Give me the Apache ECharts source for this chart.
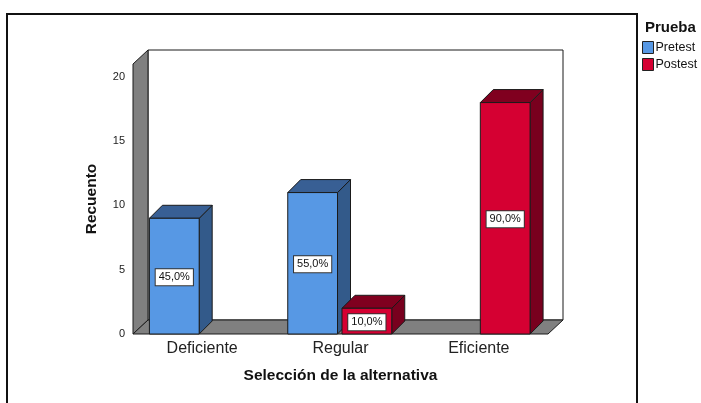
<!DOCTYPE html>
<html>
<head>
<meta charset="utf-8">
<script src="https://cdn.jsdelivr.net/npm/echarts@6/dist/echarts.min.js"></script>
<style>html,body{margin:0;padding:0;background:#fff}#main{width:701px;height:403px}</style>
</head>
<body>
<div id="main"></div>
<script>
var categories = ['Deficiente', 'Regular', 'Eficiente'];
var pretest = [9, 11, 0];
var postest = [0, 2, 18];
var pretestLabels = ['45,0%', '55,0%', ''];
var postestLabels = ['', '10,0%', '90,0%'];

var chartDom = document.getElementById('main');
var myChart = echarts.init(chartDom);
var option;

var FONT = '"Liberation Sans", Arial, sans-serif';
// front, top, side
var preColors = ['#5798e4', '#385f94', '#335a8a'];
var postColors = ['#d50032', '#80001f', '#78001e'];
var BDX = 13, BDY = -13;   // bar depth
var WDX = 15, WDY = -14;   // wall depth
var BAR_W = 50 / 139;      // share of category width

function barRender(pal, shift, labels) {
    return function (params, api) {
        var v = api.value(1);
        if (!v) return null;
        var i = api.value(0);
        var top = api.coord([i, v]);
        var base = api.coord([i, 0]);
        var cw = api.size([1, 0])[0];
        var w = cw * BAR_W;
        var cx = top[0] + cw * shift;
        var x0 = cx - w / 2, x1 = cx + w / 2, y0 = top[1], y1 = base[1];
        var line = {stroke: '#1a1a1a', lineWidth: 1};
        return {
            type: 'group',
            children: [
                {type: 'polygon', shape: {points: [[x1, y0], [x1 + BDX, y0 + BDY], [x1 + BDX, y1 + BDY], [x1, y1]]},
                    style: Object.assign({fill: pal[2]}, line)},
                {type: 'polygon', shape: {points: [[x0, y0], [x0 + BDX, y0 + BDY], [x1 + BDX, y0 + BDY], [x1, y0]]},
                    style: Object.assign({fill: pal[1]}, line)},
                {type: 'rect', shape: {x: x0, y: y0, width: w, height: y1 - y0},
                    style: Object.assign({fill: pal[0]}, line)},
                {type: 'text', x: cx, y: (y0 + y1) / 2 + 1,
                    style: {text: labels[params.dataIndex], align: 'center', verticalAlign: 'middle',
                        font: '11px ' + FONT, fill: '#111', backgroundColor: '#fff',
                        borderColor: '#333', borderWidth: 1, padding: [3, 3, 2, 3]}}
            ]
        };
    };
}

function wallRender(params, api) {
    var c = params.coordSys;
    var x = c.x, y = c.y, w = c.width, h = c.height;
    var line = {stroke: '#1a1a1a', lineWidth: 1};
    return {
        type: 'group',
        children: [
            {type: 'rect', shape: {x: x + WDX, y: y + WDY, width: w, height: h},
                style: Object.assign({fill: '#fff'}, line)},
            {type: 'polygon', shape: {points: [[x, y], [x + WDX, y + WDY], [x + WDX, y + h + WDY], [x, y + h]]},
                style: Object.assign({fill: '#808080'}, line)},
            {type: 'polygon', shape: {points: [[x, y + h], [x + WDX, y + h + WDY], [x + w + WDX, y + h + WDY], [x + w, y + h]]},
                style: Object.assign({fill: '#808080'}, line)}
        ]
    };
}

option = {
    animation: false,
    textStyle: {fontFamily: FONT},
    title: {
        text: 'Prueba', left: 645, top: 20, padding: 0,
        textStyle: {fontSize: 15, fontWeight: 'bold', color: '#111', fontFamily: FONT}
    },
    legend: {
        data: ['Pretest', 'Postest'],
        orient: 'vertical', left: 642, top: 41, padding: 0,
        itemWidth: 11, itemHeight: 12, itemGap: 4,
        icon: 'rect',
        itemStyle: {borderColor: '#222', borderWidth: 1},
        textStyle: {fontSize: 12.5, color: '#111', padding: [0, 0, 0, -3]}
    },
    graphic: [{
        type: 'rect', shape: {x: 7, y: 14, width: 630, height: 400},
        style: {fill: 'none', stroke: '#111', lineWidth: 2}, z: 0
    }],
    grid: {left: 133, right: 153, top: 64, bottom: 69},
    xAxis: {
        type: 'category',
        data: categories,
        name: 'Selección de la alternativa',
        nameLocation: 'middle', nameGap: 34,
        nameTextStyle: {fontSize: 15.5, fontWeight: 'bold', color: '#111'},
        axisLine: {show: false}, axisTick: {show: false},
        axisLabel: {fontSize: 16, color: '#222', margin: 7}
    },
    yAxis: {
        type: 'value', min: 0, max: 21, interval: 5,
        name: 'Recuento',
        nameLocation: 'middle', nameGap: 33,
        nameTextStyle: {fontSize: 15.5, fontWeight: 'bold', color: '#111'},
        axisLine: {show: false}, axisTick: {show: false},
        splitLine: {show: false},
        axisLabel: {fontSize: 11, color: '#222', margin: 8, showMaxLabel: false, padding: [4, 0, 0, 0]}
    },
    series: [
        {
            name: 'walls', type: 'custom', z: 1, silent: true,
            data: [[0, 0]], renderItem: wallRender
        },
        {
            name: 'Pretest', type: 'custom', z: 2,
            itemStyle: {color: preColors[0]},
            data: categories.map(function (c, i) { return [i, pretest[i]]; }),
            renderItem: barRender(preColors, -28 / 139, pretestLabels)
        },
        {
            name: 'Postest', type: 'custom', z: 3,
            itemStyle: {color: postColors[0]},
            data: categories.map(function (c, i) { return [i, postest[i]]; }),
            renderItem: barRender(postColors, 26.5 / 139, postestLabels)
        }
    ]
};

option && myChart.setOption(option);
</script>
</body>
</html>
